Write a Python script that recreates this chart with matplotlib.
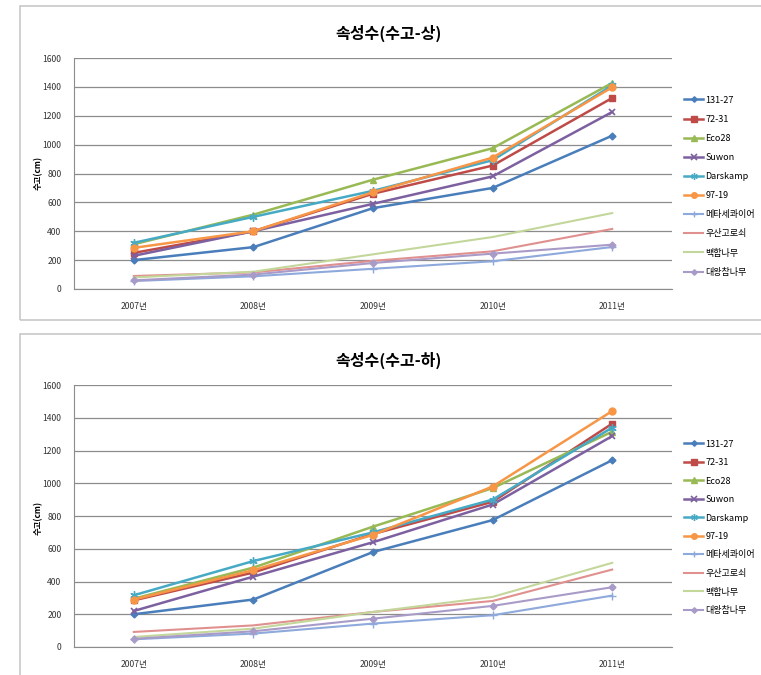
import matplotlib
matplotlib.use("Agg")
import matplotlib.pyplot as plt
from matplotlib.patches import Rectangle

plt.rcParams['font.family'] = ['Noto Sans CJK KR', 'DejaVu Sans']

years = ["2007년", "2008년", "2009년", "2010년", "2011년"]
series_names = ["131-27", "72-31", "Eco28", "Suwon", "Darskamp", "97-19",
                "메타세콰이어", "우산고로쇠", "백합나무", "대왕참나무"]

upper = {
    "131-27":   [200, 290, 560, 700, 1062],
    "72-31":    [250, 400, 660, 855, 1323],
    "Eco28":    [310, 515, 757, 975, 1427],
    "Suwon":    [230, 400, 590, 780, 1226],
    "Darskamp": [320, 500, 680, 892, 1410],
    "97-19":    [285, 400, 670, 910, 1397],
    "메타세콰이어": [55, 88, 140, 192, 291],
    "우산고로쇠":  [90, 115, 195, 261, 416],
    "백합나무":   [80, 120, 240, 360, 526],
    "대왕참나무":  [60, 100, 180, 245, 307],
}
lower = {
    "131-27":   [200, 290, 580, 775, 1141],
    "72-31":    [285, 455, 690, 887, 1364],
    "Eco28":    [295, 485, 735, 970, 1315],
    "Suwon":    [220, 430, 640, 870, 1288],
    "Darskamp": [316, 525, 700, 900, 1340],
    "97-19":    [290, 469, 685, 980, 1441],
    "메타세콰이어": [47, 82, 143, 194, 314],
    "우산고로쇠":  [92, 132, 214, 281, 473],
    "백합나무":   [61, 112, 214, 306, 514],
    "대왕참나무":  [50, 96, 173, 251, 365],
}

styles = {
    "131-27":   dict(color="#4A7EBB", marker="D", ms=3.5, lw=1.8),
    "72-31":    dict(color="#BE4B48", marker="s", ms=5, lw=1.8),
    "Eco28":    dict(color="#98B954", marker="^", ms=5, lw=1.8),
    "Suwon":    dict(color="#7D60A0", marker="x", ms=5, lw=1.8, mew=1.2),
    "Darskamp": dict(color="#46AAC5", marker=(6, 2, 0), ms=6, lw=1.8, mew=1.0),
    "97-19":    dict(color="#F79646", marker="o", ms=5, lw=1.8),
    "메타세콰이어": dict(color="#8EA9DB", marker="+", ms=6, lw=1.5, mew=1.0),
    "우산고로쇠":  dict(color="#E0908E", marker="None", lw=1.5),
    "백합나무":   dict(color="#C4D79B", marker="None", lw=1.5),
    "대왕참나무":  dict(color="#A99BC8", marker="D", ms=3.5, lw=1.5),
}

fig = plt.figure(figsize=(7.61, 6.75), dpi=100)
W, H = 761, 675

# panel borders
fig.patches.append(Rectangle((20 / W, 1 - 320 / H), 1, 314 / H, transform=fig.transFigure,
                             fill=False, edgecolor="#C8C8C8", lw=1.2))
fig.patches.append(Rectangle((20 / W, -0.05), 1, 1 - 334 / H + 0.05, transform=fig.transFigure,
                             fill=False, edgecolor="#C8C8C8", lw=1.2))

def make(data, ax_px, title, title_y, ylabel_y, legend_top, spacing):
    left, top, right, bottom = ax_px
    ax = fig.add_axes([left / W, 1 - bottom / H, (right - left) / W, (bottom - top) / H])
    x = list(range(len(years)))
    for name in series_names:
        st = dict(styles[name])
        ax.plot(x, data[name], label=name, color=st.pop("color"), **st)
    ax.set_xlim(-0.5, 4.5)
    ax.set_ylim(0, 1600)
    ax.set_yticks(range(0, 1601, 200))
    ax.set_xticks(x)
    ax.set_xticklabels(years)
    ax.grid(axis="y", color="#8C8C8C", lw=0.9)
    ax.set_axisbelow(True)
    for s in ["top", "right"]:
        ax.spines[s].set_visible(False)
    for s in ["left", "bottom"]:
        ax.spines[s].set_color("#8C8C8C")
    ax.tick_params(axis="both", labelsize=6.2, length=0, colors="#333333")
    ax.tick_params(axis="x", pad=9)
    ax.tick_params(axis="y", pad=9)
    fig.text(389 / W, 1 - title_y / H, title, ha="center", va="center",
             fontsize=11.5, fontweight="bold")
    fig.text(38 / W, 1 - ylabel_y / H, "수고(cm)", ha="center", va="center",
             rotation=90, fontsize=6, fontweight="bold")
    ax.legend(loc="upper left", bbox_to_anchor=(680 / W, 1 - legend_top / H),
              bbox_transform=fig.transFigure, frameon=False, fontsize=6.5,
              handlelength=2.2, handletextpad=0.2, labelspacing=spacing,
              borderaxespad=0, markerscale=0.8)
    return ax

make(upper, (74, 58, 672, 289), "속성수(수고-상)", 33, 173, 92, 1.12)
make(lower, (74, 385, 672, 647), "속성수(수고-하)", 360, 518, 436, 1.05)

fig.savefig("out.png", dpi=100)
